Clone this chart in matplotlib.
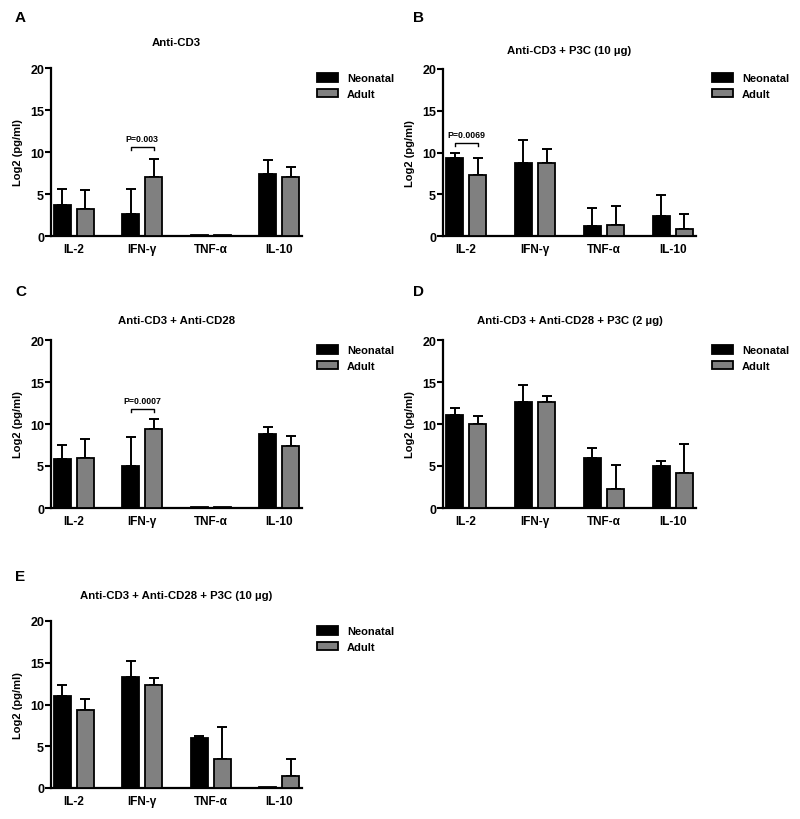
import numpy as np
import matplotlib
matplotlib.use("Agg")
import matplotlib.pyplot as plt

plt.rcParams['font.family'] = ['Liberation Sans', 'DejaVu Sans']
plt.rcParams['font.weight'] = 'bold'

cytokines = ["IL-2", "IFN-γ", "TNF-α", "IL-10"]
groups = ["Neonatal", "Adult"]

titles = ["Anti-CD3", "Anti-CD3 + P3C (10 µg)", "Anti-CD3 + Anti-CD28",
          "Anti-CD3 + Anti-CD28 + P3C (2 µg)", "Anti-CD3 + Anti-CD28 + P3C (10 µg)"]
letters = ["A", "B", "C", "D", "E"]

# means and upper error (SD) per panel
neo_A = [3.74, 2.62, 0.1, 7.44]
neo_A_err = [1.91, 2.98, 0.0, 1.63]
adu_A = [3.26, 7.08, 0.1, 7.08]
adu_A_err = [2.23, 2.14, 0.0, 1.15]

neo_B = [9.37, 8.70, 1.23, 2.42]
neo_B_err = [0.63, 2.85, 2.15, 2.48]
adu_B = [7.35, 8.80, 1.27, 0.87]
adu_B_err = [2.02, 1.65, 2.33, 1.71]

neo_C = [5.80, 4.97, 0.1, 8.79]
neo_C_err = [1.75, 3.53, 0.0, 0.91]
adu_C = [5.92, 9.42, 0.1, 7.36]
adu_C_err = [2.27, 1.18, 0.0, 1.24]

neo_D = [11.05, 12.60, 5.92, 4.97]
neo_D_err = [0.88, 2.00, 1.20, 0.68]
adu_D = [9.98, 12.64, 2.23, 4.21]
adu_D_err = [1.02, 0.64, 2.94, 3.42]

neo_E = [11.05, 13.24, 6.04, 0.1]
neo_E_err = [1.28, 1.95, 0.20, 0.0]
adu_E = [9.30, 12.33, 3.46, 1.39]
adu_E_err = [1.36, 0.83, 3.90, 2.11]

# p-value annotations: panel -> (cytokine index, text, bracket height)
pvals = {"A": (1, "P=0.003", 10.6), "B": (0, "P=0.0069", 11.15), "C": (1, "P=0.0007", 11.8)}

panels = [
    (neo_A, neo_A_err, adu_A, adu_A_err),
    (neo_B, neo_B_err, adu_B, adu_B_err),
    (neo_C, neo_C_err, adu_C, adu_C_err),
    (neo_D, neo_D_err, adu_D, adu_D_err),
    (neo_E, neo_E_err, adu_E, adu_E_err),
]

W, H = 800, 820
fig = plt.figure(figsize=(8, 8.2), dpi=100)

# pixel boxes: left, right, top(y=20), bottom(y=0)
boxes = [(51, 302, 69, 237), (443, 696, 70, 237),
         (51, 302, 341, 509), (443, 696, 341, 509),
         (51, 302, 622, 789)]
title_y = [43, 51, 321, 321, 596]
letter_pos = [(15, 18), (413, 18), (15, 292), (413, 292), (15, 577)]
legend_pos = [(317, 74), (712, 74), (317, 346), (712, 346), (317, 627)]

grey = "#808080"
off = 0.168
bw = 0.25

for i, (neo, neo_e, adu, adu_e) in enumerate(panels):
    l, r, t, b = boxes[i]
    ax = fig.add_axes([l / W, 1 - b / H, (r - l) / W, (b - t) / H])
    x = np.arange(len(cytokines))
    b1 = ax.bar(x - off, neo, bw, color="black", edgecolor="black", linewidth=1.3, zorder=3, label=groups[0])
    b2 = ax.bar(x + off, adu, bw, color=grey, edgecolor="black", linewidth=1.3, zorder=3, label=groups[1])
    for xs, m, e in ((x - off, neo, neo_e), (x + off, adu, adu_e)):
        m = np.array(m); e = np.array(e)
        k = e > 0
        ax.errorbar(xs[k], m[k], yerr=[np.zeros(k.sum()), e[k]], fmt='none', ecolor='black',
                    elinewidth=1.4, capsize=3.3, capthick=1.4, zorder=2)
    ax.set_xlim(-0.336, 3.336)
    ax.set_ylim(0, 20)
    ax.set_yticks([0, 5, 10, 15, 20])
    ax.set_xticks(x)
    ax.set_xticklabels(cytokines, fontsize=8.5, fontweight='bold')
    ax.tick_params(axis='x', length=0, pad=5)
    ax.tick_params(axis='y', length=4, width=1.5, labelsize=9, pad=1)
    for lab in ax.get_yticklabels():
        lab.set_fontweight('bold')
    for s in ("top", "right"):
        ax.spines[s].set_visible(False)
    for s in ("left", "bottom"):
        ax.spines[s].set_linewidth(1.6)
    ax.set_ylabel("Log2 (pg/ml)", fontsize=8, fontweight='bold', labelpad=5)

    fig.text((l + r) / 2 / W, 1 - title_y[i] / H, titles[i], ha='center', va='center',
             fontsize=8.2, fontweight='bold')
    lx, ly = letter_pos[i]
    fig.text(lx / W, 1 - ly / H, letters[i], ha='left', va='center', fontsize=11, fontweight='bold')

    gx, gy = legend_pos[i]
    leg = ax.legend(handles=[b1, b2], loc='upper left', bbox_to_anchor=(gx / W, 1 - gy / H),
                    bbox_transform=fig.transFigure, frameon=False, fontsize=8,
                    handlelength=1.9, handleheight=0.8, handletextpad=0.8,
                    labelspacing=0.5, borderpad=0, borderaxespad=0)
    for txt in leg.get_texts():
        txt.set_fontweight('bold')

    key = letters[i]
    if key in pvals:
        ci, ptxt, yb = pvals[key]
        x0, x1 = ci - off, ci + off
        ax.plot([x0, x0, x1, x1], [yb - 0.4, yb, yb, yb - 0.4], color='black', lw=1.0, zorder=4)
        ax.text(ci, yb + 0.45, ptxt, ha='center', va='bottom', fontsize=6.3, fontweight='bold')

fig.savefig("out.png", dpi=100)
